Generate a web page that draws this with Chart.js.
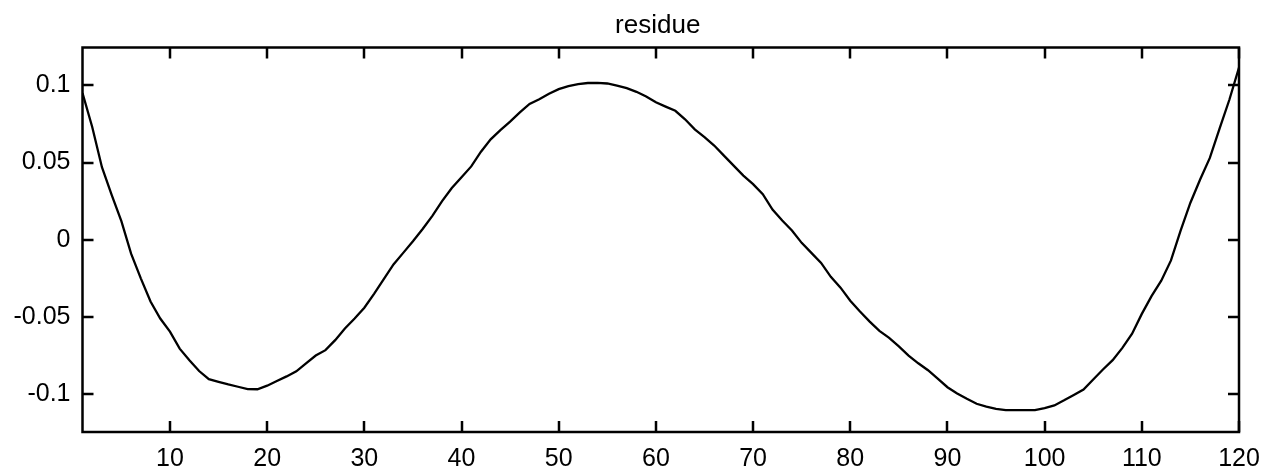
<!DOCTYPE html>
<html>
<head>
<meta charset="utf-8">
<title>residue</title>
<script src="https://cdn.jsdelivr.net/npm/chart.js@4"></script>
<style>
    html, body { margin: 0; padding: 0; background: #fff; }
    #wrap { width: 1267px; height: 473px; }
</style>
</head>
<body>
<div id="wrap"><canvas id="residueChart" width="1267" height="473"></canvas></div>
<script>
// sample number 1..120 along the x axis
const samples = Array.from({ length: 120 }, (_, i) => i + 1);

const residue = [
    0.095, 0.073, 0.047, 0.029, 0.012, -0.009, -0.025, -0.040, -0.051, -0.0595,
    -0.0705, -0.078, -0.085, -0.0903, -0.092, -0.0937, -0.0952, -0.0967, -0.0968, -0.0945,
    -0.0915, -0.0885, -0.0852, -0.080, -0.075, -0.0715, -0.065, -0.0575, -0.051, -0.044,
    -0.035, -0.0255, -0.016, -0.0085, -0.001, 0.007, 0.0155, 0.025, 0.0335, 0.0405,
    0.0475, 0.057, 0.065, 0.071, 0.0765, 0.0825, 0.088, 0.091, 0.0945, 0.0975,
    0.0995, 0.1008, 0.1015, 0.1016, 0.1012, 0.0998, 0.0982, 0.0958, 0.0928, 0.089,
    0.0862, 0.0835, 0.078, 0.0715, 0.0665, 0.061, 0.0545, 0.048, 0.0415, 0.036,
    0.0295, 0.0195, 0.0125, 0.006, -0.002, -0.0085, -0.015, -0.024, -0.031, -0.0395,
    -0.0465, -0.053, -0.059, -0.0635, -0.069, -0.075, -0.080, -0.0845, -0.090, -0.0955,
    -0.0995, -0.103, -0.1062, -0.108, -0.1095, -0.1103, -0.1103, -0.1103, -0.1103, -0.109,
    -0.1073, -0.104, -0.1005, -0.097, -0.0905, -0.084, -0.078, -0.070, -0.0608, -0.048,
    -0.0365, -0.0265, -0.0134, 0.006, 0.024, 0.039, 0.053, 0.072, 0.0905, 0.1115
];

const xTicks = [10, 20, 30, 40, 50, 60, 70, 80, 90, 100, 110, 120];
const yTicks = [-0.1, -0.05, 0, 0.05, 0.1];
const yTickLabels = ['-0.1', '-0.05', '0', '0.05', '0.1'];
const title = 'residue';

const FONT = 'Liberation Sans, Arial, sans-serif';
const TICK_LEN = 11;

// box around the axes with inward ticks on all four sides, title centred over the box
const axesBox = {
    id: 'axesBox',
    afterDraw(chart) {
        const { ctx, chartArea: a, scales: { x, y } } = chart;
        ctx.save();
        ctx.strokeStyle = '#000';
        ctx.lineWidth = 2.5;
        ctx.lineCap = 'butt';
        ctx.strokeRect(a.left, a.top, a.right - a.left, a.bottom - a.top);
        ctx.beginPath();
        xTicks.forEach(v => {
            const px = Math.round(x.getPixelForValue(v));
            ctx.moveTo(px, a.bottom); ctx.lineTo(px, a.bottom - TICK_LEN);
            ctx.moveTo(px, a.top); ctx.lineTo(px, a.top + TICK_LEN);
        });
        yTicks.forEach(v => {
            const py = Math.round(y.getPixelForValue(v));
            ctx.moveTo(a.left, py); ctx.lineTo(a.left + TICK_LEN, py);
            ctx.moveTo(a.right, py); ctx.lineTo(a.right - TICK_LEN, py);
        });
        ctx.stroke();

        ctx.fillStyle = '#000';
        ctx.font = `26px ${FONT}`;
        ctx.textAlign = 'center';
        ctx.textBaseline = 'alphabetic';
        ctx.fillText(title, (a.left + a.right) / 2 - 3, 33);
        ctx.restore();
    }
};

new Chart(document.getElementById('residueChart'), {
    type: 'line',
    data: {
        datasets: [{
            data: residue.map((v, i) => ({ x: samples[i], y: v })),
            borderColor: '#000',
            borderWidth: 2.3,
            pointRadius: 0,
            tension: 0,
            fill: false
        }]
    },
    options: {
        responsive: false,
        animation: false,
        devicePixelRatio: 1,
        layout: { padding: { left: 0, right: 28, top: 47.5, bottom: 0 } },
        plugins: {
            legend: { display: false },
            tooltip: { enabled: false },
            title: { display: false }
        },
        scales: {
            x: {
                type: 'linear',
                min: 1,
                max: 120,
                grid: { display: false },
                border: { display: false },
                afterBuildTicks: scale => { scale.ticks = xTicks.map(v => ({ value: v })); },
                afterFit: scale => { scale.height = 41; },
                ticks: {
                    color: '#000',
                    font: { family: FONT, size: 25 },
                    padding: 4,
                    maxRotation: 0,
                    autoSkip: false,
                    callback: v => String(v)
                }
            },
            y: {
                min: -0.1245,
                max: 0.1245,
                grid: { display: false },
                border: { display: false },
                afterBuildTicks: scale => { scale.ticks = yTicks.map(v => ({ value: v })); },
                afterFit: scale => { scale.width = 82.5; },
                ticks: {
                    color: '#000',
                    font: { family: FONT, size: 25 },
                    padding: 4,
                    autoSkip: false,
                    callback: (v, i) => yTickLabels[i]
                }
            }
        }
    },
    plugins: [axesBox]
});
</script>
</body>
</html>
